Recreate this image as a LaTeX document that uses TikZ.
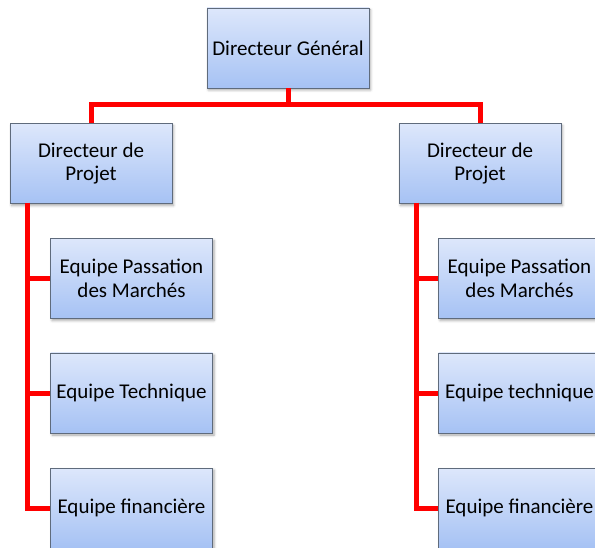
\documentclass[tikz,border=0pt]{standalone}
\usepackage{fontspec}
\setmainfont{Carlito}
\usetikzlibrary{shadows.blur,calc}
\definecolor{boxtop}{HTML}{DDE7FB}
\definecolor{boxbot}{HTML}{A6C2F4}
\definecolor{boxline}{HTML}{5F6B7C}
\tikzset{
  orgbox/.style={draw=boxline, line width=0.8pt,
    top color=boxtop, bottom color=boxbot,
    minimum width=162pt, minimum height=80pt, inner sep=0pt, align=center,
    font=\fontsize{21}{23.5}\selectfont,
    blur shadow={shadow xshift=1.5pt, shadow yshift=-2pt, shadow blur radius=2.5pt, shadow opacity=35}},
  conn/.style={draw=red, line width=5pt}
}
\begin{document}
\begin{tikzpicture}[x=1pt,y=1pt]
\useasboundingbox (0,0) rectangle (595,-548);
\coordinate (bus) at (288,-105);
\coordinate (sp1) at (27,-203);
\coordinate (sp2) at (416,-203);
\node[orgbox] (dg) at (288,-48) {Directeur Général};
\node[orgbox] (dp1) at (91,-163.5) {Directeur de\\Projet};
\node[orgbox] (dp2) at (480,-163.5) {Directeur de\\Projet};
\node[orgbox] (ep1) at (131.5,-278.5) {Equipe Passation\\des Marchés};
\node[orgbox] (et1) at (131.5,-393) {Equipe Technique};
\node[orgbox] (ef1) at (131.5,-508) {Equipe financière};
\node[orgbox] (ep2) at (519.5,-278.5) {Equipe Passation\\des Marchés};
\node[orgbox] (et2) at (519.5,-393) {Equipe technique};
\node[orgbox] (ef2) at (519.5,-508) {Equipe financière};
\draw[conn] (dg.south) -- (bus);
\draw[conn, line join=miter] (dp1.north) |- (bus) -| (dp2.north);
\draw[conn, line join=miter] (sp1) |- (ef1.west);
\draw[conn] (sp1) |- (ep1.west);
\draw[conn] (sp1) |- (et1.west);
\draw[conn, line join=miter] (sp2) |- (ef2.west);
\draw[conn] (sp2) |- (ep2.west);
\draw[conn] (sp2) |- (et2.west);
\end{tikzpicture}
\end{document}
